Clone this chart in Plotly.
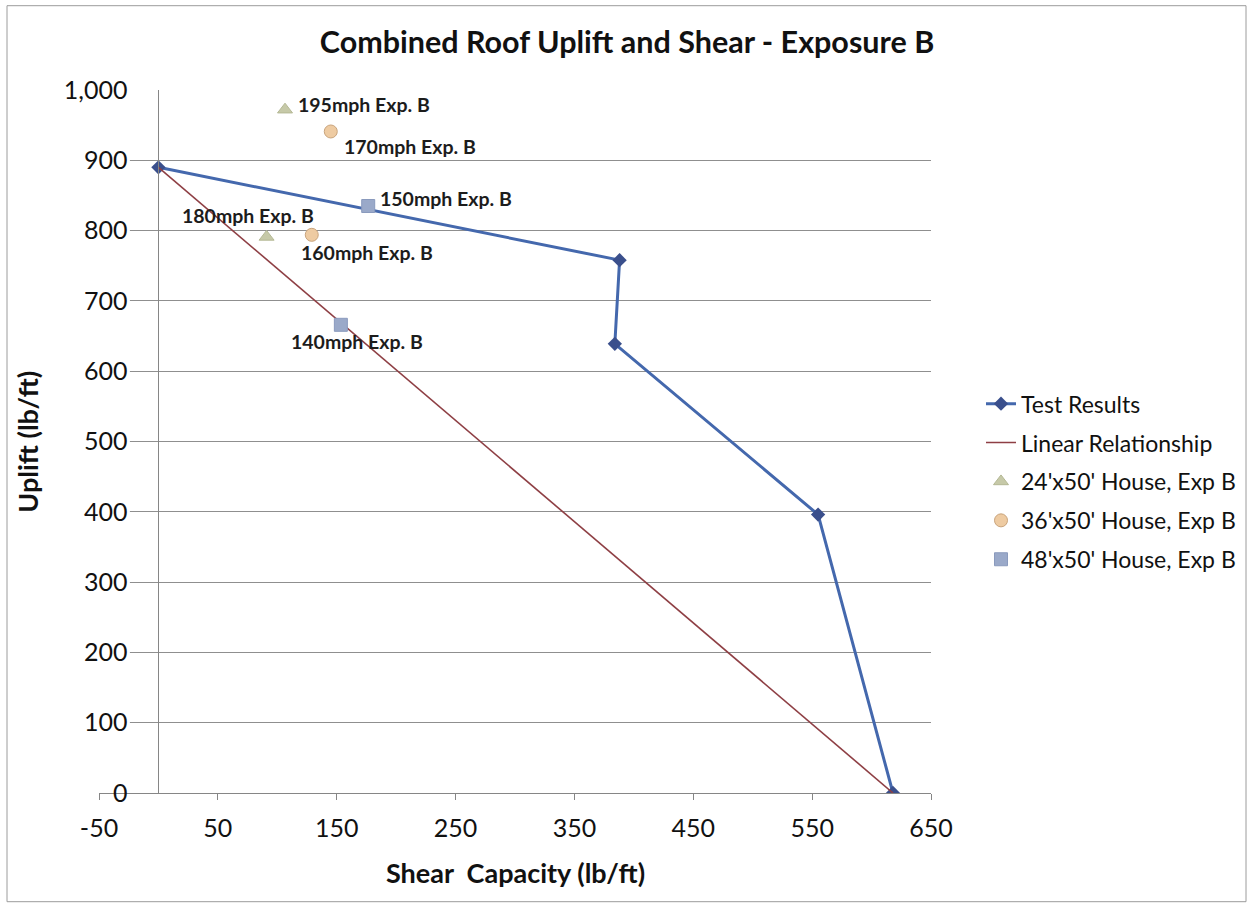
import plotly.graph_objects as go

# ---- data -------------------------------------------------------------
test_shear = [0, 388, 384, 555, 618]
test_uplift = [890, 758, 639, 396, 0]

linear_shear = [0, 618]
linear_uplift = [890, 0]

house24_shear = [106.5, 91]
house24_uplift = [972, 791]
house24_labels = ["195mph Exp. B", "180mph Exp. B"]

house36_shear = [145, 129]
house36_uplift = [941, 794]
house36_labels = ["170mph Exp. B", "160mph Exp. B"]

house48_shear = [176.5, 153.5]
house48_uplift = [835, 666]
house48_labels = ["150mph Exp. B", "140mph Exp. B"]

x_ticks = [-50, 50, 150, 250, 350, 450, 550, 650]
y_ticks = list(range(0, 1001, 100))

FONT = "Lato"
GRID = "#8f8f8f"

fig = go.Figure()

fig.add_trace(go.Scatter(
    x=test_shear, y=test_uplift, mode="lines+markers", name="Test Results",
    line=dict(color="#4468ad", width=3),
    marker=dict(symbol="diamond", size=11, color="#3a4f8c"),
    legendgroup="a",
))
fig.add_trace(go.Scatter(
    x=linear_shear, y=linear_uplift, mode="lines", name="Linear Relationship",
    line=dict(color="#8e3f44", width=1.6),
    legendgroup="b",
))
fig.add_trace(go.Scatter(
    x=house24_shear, y=house24_uplift, mode="markers", name="24'x50' House, Exp B",
    marker=dict(symbol="triangle-up", size=13, color="#c6c9a8",
                line=dict(color="#b4b894", width=1)),
    legendgroup="c",
))
fig.add_trace(go.Scatter(
    x=house36_shear, y=house36_uplift, mode="markers", name="36'x50' House, Exp B",
    marker=dict(symbol="circle", size=13, color="#eecba2",
                line=dict(color="#c9a47c", width=1)),
    legendgroup="d",
))
fig.add_trace(go.Scatter(
    x=house48_shear, y=house48_uplift, mode="markers", name="48'x50' House, Exp B",
    marker=dict(symbol="square", size=13, color="#9aa9c9",
                line=dict(color="#8a9abd", width=1)),
    legendgroup="e",
))

# plot area in pixels
L, R, T, B = 99, 931, 90.3, 793.3
W, H = 1252, 908


def px_x(p):
    return (p - L) / (R - L)


def px_y(p):
    return (B - p) / (B - T)


# point labels: (x, y, text, anchor, xshift, yshift)
label_specs = [
    (house24_shear[0], house24_uplift[0], house24_labels[0], "left", 11, 5),
    (house24_shear[1], house24_uplift[1], house24_labels[1], "center", -19, 21),
    (house36_shear[0], house36_uplift[0], house36_labels[0], "left", 11, -15),
    (house36_shear[1], house36_uplift[1], house36_labels[1], "center", 55, -18),
    (house48_shear[0], house48_uplift[0], house48_labels[0], "left", 10, 8),
    (house48_shear[1], house48_uplift[1], house48_labels[1], "center", 16, -17),
]
annotations = []
for x, y, t, anchor, xs, ys in label_specs:
    annotations.append(dict(
        x=x, y=y, xref="x", yref="y", text=t, showarrow=False,
        xanchor=anchor, yanchor="middle", xshift=xs, yshift=ys,
        font=dict(family=FONT, size=19.5, color="#1c1c1c", weight="bold"),
    ))

# axis titles
annotations.append(dict(
    x=px_x(515), y=px_y(873), xref="paper", yref="paper",
    text="Shear\u00a0 Capacity (lb/ft)", xanchor="center", yanchor="middle",
    showarrow=False, font=dict(family=FONT, size=27, color="#111", weight="bold"),
))
annotations.append(dict(
    x=px_x(28), y=px_y(442), xref="paper", yref="paper", text="Uplift (lb/ft)",
    textangle=-90, xanchor="center", yanchor="middle",
    showarrow=False, font=dict(family=FONT, size=27, color="#111", weight="bold"),
))

shapes = [
    # mask where the axis labels sit, hiding the gridlines behind them
    dict(type="rect", xref="x", yref="y", x0=-51, x1=-24, y0=2, y1=1006,
         fillcolor="white", line=dict(width=0), layer="between"),
    # chart area border
    dict(type="rect", xref="paper", yref="paper",
         x0=px_x(7), x1=px_x(1246), y0=px_y(902), y1=px_y(6),
         line=dict(color="#9c9c9c", width=1), fillcolor="rgba(0,0,0,0)", layer="below"),
]

fig.update_layout(
    width=W, height=H,
    margin=dict(l=L, r=W - R, t=T, b=H - B, pad=0, autoexpand=False),
    paper_bgcolor="white", plot_bgcolor="white",
    font=dict(family=FONT, color="#111"),
    title=dict(text="<b>Combined Roof Uplift and Shear - Exposure B</b>",
               x=px_x(627), xref="paper", xanchor="center",
               y=1 - 42 / H, yanchor="middle",
               font=dict(family=FONT, size=30.5, color="#111")),
    xaxis=dict(
        range=[-50, 650], tickvals=x_ticks, ticktext=[str(v) for v in x_ticks],
        showgrid=False, zeroline=False, showline=True, linecolor="#868686", linewidth=1,
        ticks="outside", ticklen=6, tickcolor="#868686",
        tickfont=dict(family=FONT, size=25, color="#111"), ticklabelstandoff=7,
    ),
    yaxis=dict(
        range=[0, 1000], tickvals=y_ticks, tickformat=",",
        anchor="free", position=px_x(158.4),
        showgrid=True, gridcolor=GRID, gridwidth=1, zeroline=False,
        showline=True, linecolor="#868686", linewidth=1,
        ticks="", tickfont=dict(family=FONT, size=25, color="#111"),
        ticklabelstandoff=26,
    ),
    legend=dict(
        x=px_x(981), y=px_y(482), xanchor="left", yanchor="middle",
        font=dict(family=FONT, size=23, color="#111"),
        traceorder="grouped", tracegroupgap=6, itemwidth=30,
        bgcolor="rgba(0,0,0,0)",
    ),
    annotations=annotations,
    shapes=shapes,
)

fig.write_html("out.html")
